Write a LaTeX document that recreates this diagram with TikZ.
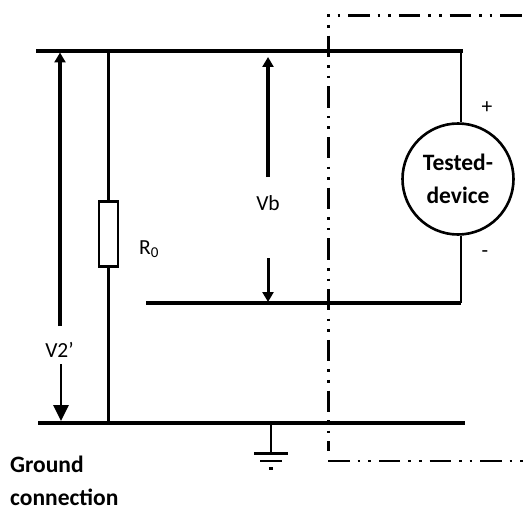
\documentclass[tikz,border=0pt]{standalone}
\usepackage{fontspec}
\setmainfont{Carlito}
\usetikzlibrary{arrows.meta}
\tikzset{
  rail/.style={line width=3.6pt},
  wire/.style={line width=2.6pt},
  vthick/.style={line width=3.6pt},
  boundary/.style={line width=2.4pt,dash pattern=on 2.6pt off 8pt on 2.6pt off 8pt on 21.3pt off 8.2pt},
  boundaryb/.style={line width=2.4pt,dash pattern=on 21.3pt off 8pt on 2.6pt off 8pt on 2.6pt off 8.2pt},
  label/.style={inner sep=0pt,font=\fontsize{21.5}{25}\selectfont},
  blabel/.style={inner sep=0pt,align=left,font=\fontsize{23.5}{33}\selectfont\bfseries},
  smallhead/.style={-{Triangle[length=10pt,width=11pt]}},
  bighead/.style={-{Triangle[length=16pt,width=15pt]}},
}
\begin{document}
\begin{tikzpicture}[x=1pt,y=-1pt]
\useasboundingbox (0,0) rectangle (526,508);
% rail ends
\coordinate (tl) at (38,51);
\coordinate (tc) at (461,51);
\coordinate (ml) at (146,302.7);
\coordinate (mc) at (461,302.7);
\coordinate (bl) at (38,422.7);
\coordinate (br) at (465,422.7);
\coordinate (rt) at (108.5,51);
\coordinate (rb) at (108.5,422.7);
\coordinate (gt) at (271,422.7);
\coordinate (gb) at (271,453.3);
% device and resistor
\node[draw,circle,line width=2.6pt,minimum size=111pt,inner sep=0pt,align=center,
      font=\fontsize{23.5}{33}\selectfont\bfseries] (dut) at (458,179) {Tested-\\device};
\node[draw,line width=2.6pt,minimum width=19pt,minimum height=65pt,inner sep=0pt] (R) at (108.5,234) {};
% rails and wires
\draw[rail,line cap=rect] (tl) -- (tc);
\draw[rail] (ml) -- (mc);
\draw[rail] (bl) -- (br);
\draw[wire] (tc) -- (tc |- dut.north);
\draw[wire] (dut.south -| mc) -- (mc);
\draw[wire] (rt) -- (R.north);
\draw[wire] (R.south) -- (rb);
% ground
\draw[wire] (gt) -- (gb);
\coordinate (g1l) at (254,453.3);
\coordinate (g1r) at (288,453.3);
\coordinate (g2l) at (260,461);
\coordinate (g2r) at (282,461);
\coordinate (g3l) at (268.8,468.3);
\coordinate (g3r) at (273.2,468.3);
\draw[line width=2.4pt] (g1l) -- (g1r);
\draw[line width=2.4pt] (g2l) -- (g2r);
\draw[line width=2.4pt] (g3l) -- (g3r);
% labels
\node[label] (v2) at (59.5,350) {V2’};
\node[label] (vb) at (268,203) {Vb};
\node[label,anchor=west] (r0) at (139,249) {R\textsubscript{0}};
\node[label] (plus) at (487,108) {+};
\node[label] (minus) at (485,254) {-};
\node[blabel,anchor=north west] (gc) at (10,456) {Ground\\connection};
% voltage arrows
\coordinate (a1s) at (60,326);
\coordinate (a1e) at (60,52.5);
\coordinate (a2s) at (61,364);
\coordinate (a2e) at (61,421);
\coordinate (a3s) at (268,177);
\coordinate (a3e) at (268,57);
\coordinate (a4s) at (268,258);
\coordinate (a4e) at (268,302);
\draw[vthick,smallhead] (a1s) -- (a1e);
\draw[line width=2.8pt,bighead] (a2s) -- (a2e);
\draw[vthick,smallhead] (a3s) -- (a3e);
\draw[line width=3pt,smallhead] (a4s) -- (a4e);
% boundary of the device under test
\coordinate (cnw) at (328.3,14.4);
\coordinate (cne) at (526,15.7);
\coordinate (cnh) at (327,15.7);
\coordinate (csw) at (328.3,451.3);
\coordinate (chb) at (328.3,461);
\coordinate (cse) at (526,461);
\draw[boundary] (cnw) -- (csw);
\draw[boundary] (cnh) -- (cne);
\draw[boundaryb] (chb) -- (cse);
\end{tikzpicture}
\end{document}
